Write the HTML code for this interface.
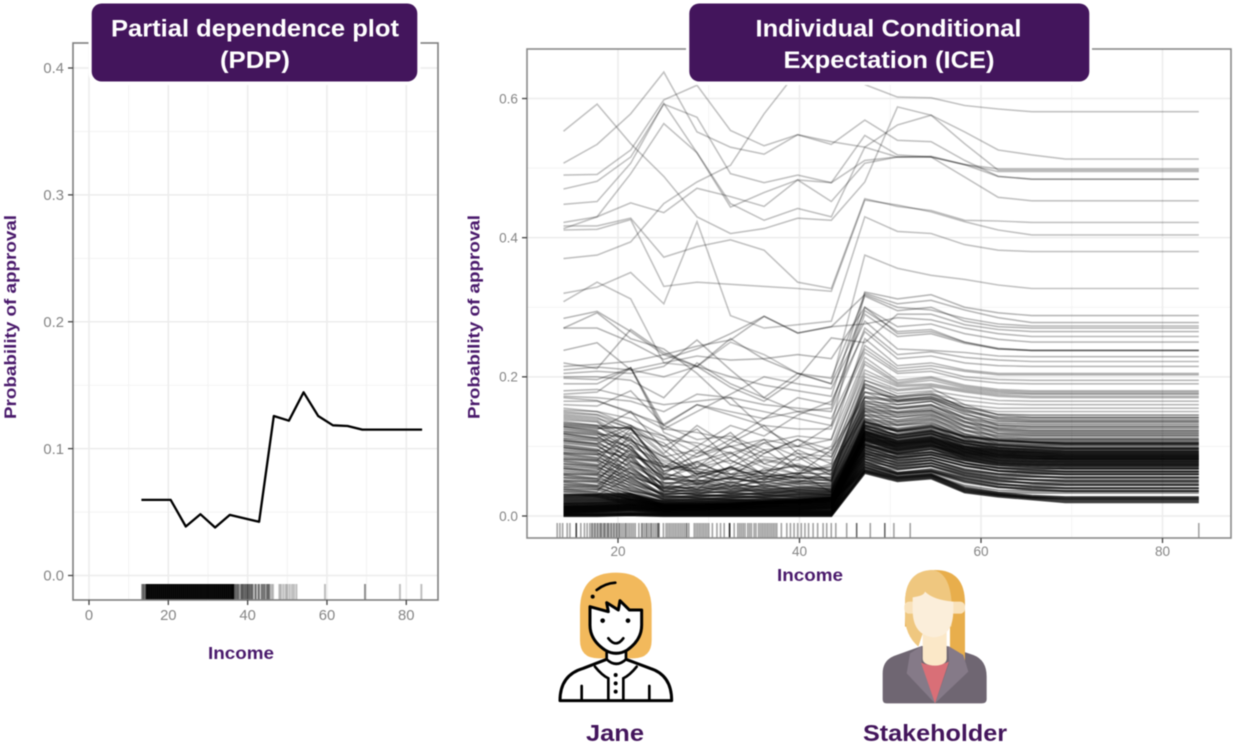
<!DOCTYPE html>
<html lang="en">
<head>
<meta charset="utf-8">
<title>PDP and ICE plots</title>
<style>
html,body{margin:0;padding:0;background:#fff;}
#stage{display:block;width:1236px;height:746px;filter:blur(.6px);font-family:"Liberation Sans",sans-serif;}
.tick{fill:#858585;}
.axt{fill:#4a1a6c;font-weight:bold;}
.ttl{fill:#fff;font-weight:bold;font-size:24px;text-anchor:middle;}
.nm{fill:#43155c;font-weight:bold;font-size:23px;text-anchor:middle;}
</style>
</head>
<body>
<svg id="stage" xmlns="http://www.w3.org/2000/svg" width="1236" height="746" viewBox="0 0 1236 746">
  <defs>
    <clipPath id="iceClip"><rect x="527" y="49" width="704" height="489"/></clipPath>
  </defs>
  <g id="pdpGridLines"></g>
  <g id="iceGridLines"></g>
  <g id="pdpMarks"></g>
  <g id="iceMarks" clip-path="url(#iceClip)"></g>
  <rect x="73" y="43" width="365" height="557" fill="none" stroke="#7f7f7f" stroke-width="1.6"/>
  <rect x="527" y="49" width="704" height="489" fill="none" stroke="#8a8a8a" stroke-width="1.6"/>
  <g id="pdpAxes"></g>
  <g id="iceAxes"></g>

  <text class="axt" transform="translate(16,419) rotate(-90)" font-size="17" textLength="204" lengthAdjust="spacingAndGlyphs">Probability of approval</text>
  <text class="axt" transform="translate(479.500,419) rotate(-90)" font-size="17" textLength="204" lengthAdjust="spacingAndGlyphs">Probability of approval</text>
  <text class="axt" x="208" y="659" font-size="17.500" textLength="66" lengthAdjust="spacingAndGlyphs">Income</text>
  <text class="axt" x="777" y="581" font-size="17.500" textLength="66" lengthAdjust="spacingAndGlyphs">Income</text>

  <rect x="88.500" y="0" width="332" height="85" rx="12" fill="#fff"/>
  <rect x="686" y="0" width="406" height="85" rx="12" fill="#fff"/>
  <rect x="91.700" y="3.500" width="325.600" height="78" rx="10" fill="#43155c"/>
  <rect x="689.300" y="3.500" width="400" height="78" rx="10" fill="#43155c"/>
  <text class="ttl" x="255" y="36.500" textLength="288" lengthAdjust="spacingAndGlyphs">Partial dependence plot</text>
  <text class="ttl" x="255" y="68" textLength="70" lengthAdjust="spacingAndGlyphs">(PDP)</text>
  <text class="ttl" x="888.500" y="36.500" textLength="266" lengthAdjust="spacingAndGlyphs">Individual Conditional</text>
  <text class="ttl" x="889" y="68" textLength="211" lengthAdjust="spacingAndGlyphs">Expectation (ICE)</text>

  <g id="jane" transform="translate(540,560) scale(.3333)">
    <path d="M120 240V150Q120 38 228 38Q335 38 335 150V240Q335 295 280 295H175Q120 295 120 240Z" fill="#f2b95c"/>
    <path d="M60 422Q60 345 130 325L200 298L258 298L330 325Q395 345 395 422Z" fill="#fff" stroke="#000" stroke-width="9" stroke-linejoin="round"/>
    <path d="M200 270V298Q228 325 258 298V270Z" fill="#fff" stroke="#000" stroke-width="8"/>
    <path d="M150 140V195Q150 240 195 270Q228 290 262 270Q305 240 305 195V150L268 150L240 122L235 150L200 128L205 155Z" fill="#fff" stroke="#000" stroke-width="9" stroke-linejoin="round"/>
    <path d="M170 90Q195 70 226 68M205 235Q228 265 250 235M165 320Q185 345 205 355V422M290 320Q270 345 250 355V422M125 378V420M328 378V420" fill="none" stroke="#000" stroke-width="8" stroke-linecap="round"/>
    <circle cx="158" cy="110" r="6"/>
    <circle cx="188" cy="182" r="7"/>
    <circle cx="264" cy="182" r="7"/>
    <circle cx="227" cy="345" r="6"/>
    <circle cx="227" cy="370" r="6"/>
    <circle cx="227" cy="395" r="6"/>
  </g>
  <text class="nm" x="615" y="741" textLength="58" lengthAdjust="spacingAndGlyphs">Jane</text>

  <g id="stakeholder" transform="translate(850,560) scale(.3333)">
    <path d="M98 418V340Q98 298 140 285L215 258L290 258L370 285Q410 300 410 350V418Q410 430 395 430H110Q98 430 98 418Z" fill="#6f6672"/>
    <path d="M165 130Q165 30 255 30Q345 30 345 130V310L330 318L300 300V200H165Z" fill="#e8ae4c"/>
    <path d="M165 130Q165 30 250 30Q300 40 305 130V200H225L205 260Q165 225 165 170Z" fill="#efc77f"/>
    <path d="M180 280L215 258V310L255 430L170 340Z" fill="#857a88"/>
    <path d="M295 258L340 285L355 335L255 430L297 310Z" fill="#857a88"/>
    <path d="M213 308Q255 325 297 305L255 430Z" fill="#d96f77"/>
    <path d="M218 205H290V295Q290 315 255 317Q218 315 218 295Z" fill="#fbe8c8"/>
    <rect x="163" y="125" width="182" height="36" rx="14" fill="#f9e2bb"/>
    <path d="M188 112Q222 108 225 95Q250 120 310 125V150Q310 230 250 232Q188 225 188 150Z" fill="#fbeeda"/>
  </g>
  <text class="nm" x="935" y="741" textLength="144" lengthAdjust="spacingAndGlyphs">Stakeholder</text>
</svg>

<script>
const pdpIncome = [13.2,16.9,20.6,24.4,28.1,31.8,35.5,39.2,42.9,46.6,50.4,54.1,57.8,61.5,65.2,68.9,84];
const pdpProbability = [.0596,.0596,.0596,.0386,.0483,.0378,.0478,.045,.0423,.1257,.122,.1444,.1257,.1184,.1178,.115,.115];
const iceIncome = [14,17.7,21.4,25.05,28.7,32.4,36.1,39.8,43.5,47.2,50.8,54.5,58.2,61.9,65.6,69.3,84];

const pdpXTicks = [0,20,40,60,80];
const pdpXMinor = [10,30,50,70];
const pdpYTicks = [0,.1,.2,.3,.4];
const pdpYMinor = [.05,.15,.25,.35];
const iceXTicks = [20,40,60,80];
const iceXMinor = [30,50,70];
const iceYTicks = [0,.2,.4,.6];
const iceYMinor = [.1,.3,.5];

const pdpRugDense = [14.6,15,15.5,16,16.5,17,17.5,18,18.5,19,19.5,20,20.5,21,21.5,22,22.5,23,23.5,24,24.5,25,25.5,26,26.5,27,27.5,28,28.5,29,29.5,30,30.5,31,31.5,32,32.5,33,33.5,34,34.5,35,35.5,36,36.3];
const pdpRugMid = [13.5,14,36.7,37.2,37.7,38.4,38.8,39.3,39.8,40.2,40.7,41.2,42,42.8,43.6,44.2,44.9,45.4];
const pdpRugLight = [46,46.4,48,48.4,49,49.6,50,50.6,51.2,51.7,52.3,59.5,69.6,69.6,78.4,83.8];
const iceRug = [13.3,13.6,13.9,14.4,14.7,15.4,15.4,15.4,15.9,16.3,16.6,16.9,17.1,17.2,17.4,17.5,17.7,17.8,18,18.1,18.2,18.4,18.5,18.6,18.8,18.9,19,19.2,19.3,19.5,19.6,19.8,19.9,20.1,20.2,20.4,20.6,20.8,20.9,21.1,21.3,21.5,21.7,21.9,22.3,22.6,22.7,22.9,23.1,23.2,23.4,23.6,23.7,23.9,24.1,24.3,24.4,24.5,24.5,25,25.3,25.5,25.7,25.9,26.1,26.3,26.5,26.7,26.9,27.1,27.3,27.5,27.6,27.8,28.4,28.6,28.8,29,29.2,29.4,29.6,29.8,30,30.4,30.9,31.3,31.7,32.3,32.3,32.3,32.3,32.8,33.2,33.4,33.6,33.8,34,34.3,34.5,34.7,35,35.2,35.5,35.7,35.9,36.1,36.3,36.5,36.7,36.9,37.1,37.3,37.5,38,38.6,39,39.4,39.8,40.2,40.6,41,41.5,42,42.6,43,43.5,44,45.2,46.3,46.3,47.8,49.4,49.4,50.4,52.2,84];

/* ICE probabilities in thousandths, one row per applicant */
const iceUpper = [
[370,375,394,449,480,504,578,640,668,620,602,601,590,585,581,581,581],
[553,592,535,488,430,406,413,428,425,480,588,576,552,526,519,513,513],
[507,534,578,638,552,530,520,548,538,530,562,576,535,497,497,497,497],
[490,491,526,598,619,554,532,548,534,569,540,538,511,488,484,484,484],
[470,481,516,592,573,492,479,490,479,547,519,516,505,499,499,499,499],
[448,452,507,593,522,449,425,442,430,530,516,516,505,488,484,484,484],
[422,430,450,436,471,459,445,483,452,507,516,517,505,495,495,495,495],
[413,430,492,564,522,444,465,483,479,511,516,516,487,458,453,453,453],
[417,417,428,372,387,397,382,336,327,456,445,439,425,424,422,422,422],
[411,412,426,330,336,333,330,327,323,454,447,437,423,411,404,404,404],
[320,329,350,305,423,288,270,275,280,430,409,406,390,382,380,380,380],
[308,336,312,220,215,250,232,205,190,375,356,346,340,332,327,327,327]
];
const iceMid = [
[284,294,265,232,215,200,188,180,172,322,312,318,300,292,288,288,288],
[270,292,255,240,205,160,150,140,130,320,305,310,296,285,278,278,278],
[270,270,250,225,240,262,287,263,272,318,300,296,284,276,273,273,273],
[238,249,210,200,215,255,225,205,198,316,295,300,280,272,270,270,270],
[220,212,268,235,215,185,165,198,256,249,290,290,275,268,265,265,265],
[215,218,222,232,244,253,287,263,272,276,285,282,270,262,258,258,258],
[210,214,210,220,230,224,226,232,226,300,272,276,262,254,250,250,250],
[205,208,205,215,253,210,170,150,155,300,262,265,250,241,238,238,238],
[200,200,195,170,220,190,170,205,190,295,265,268,250,240,238,238,238],
[198,196,213,130,160,150,140,170,160,290,258,262,248,240,238,238,238],
[190,190,213,125,150,175,200,190,183,280,240,238,235,230,229,229,229],
[180,182,170,160,165,170,160,155,150,270,232,236,228,224,222,222,222],
[175,178,213,120,100,130,115,145,165,265,226,230,220,216,215,215,215],
[172,170,165,150,175,170,125,100,110,255,216,220,210,205,205,205,205],
[170,166,148,132,160,145,130,125,125,245,212,216,208,203,203,203,203],
[165,165,150,125,120,110,140,150,140,240,208,212,200,196,195,195,195],
[160,158,180,130,110,115,95,100,130,235,205,208,196,191,190,190,190],
[155,150,130,110,105,90,105,115,110,228,195,200,188,182,180,180,180],
[152,150,140,115,90,100,85,80,100,222,192,198,186,180,178,178,178],
[150,146,130,90,130,100,110,100,90,218,190,195,184,178,176,176,176],
[148,145,125,100,85,110,90,110,95,210,188,190,182,176,175,175,175],
[146,142,115,85,95,75,105,85,80,205,186,188,180,174,172,172,172],
[144,140,127,70,85,100,75,90,85,200,182,186,178,172,170,170,170],
[142,138,110,80,70,90,70,60,75,195,176,180,172,166,165,165,165],
[140,136,105,65,75,60,80,70,65,190,172,175,166,161,160,160,160],
[138,135,100,78,60,70,62,75,60,188,168,170,160,155,155,155,155],
[136,130,95,55,70,80,60,55,52,185,165,168,156,150,150,150,150]
];
const iceScatter = [
[128,124,150,95,60,85,110,70,50,195,180,184,160,145,142,142,142],
[118,112,130,100,125,80,60,95,75,190,172,178,154,138,136,136,136],
[108,104,127,115,70,105,130,90,62,185,166,170,148,130,128,128,128],
[98,94,120,105,65,55,90,110,85,178,160,165,140,124,122,122,122],
[90,88,110,60,90,120,75,60,95,170,154,160,136,118,116,116,116],
[82,80,125,88,55,70,95,65,70,165,148,152,130,112,110,110,110],
[75,72,105,70,100,60,52,85,58,160,142,148,124,108,106,106,106],
[68,66,95,52,78,92,58,48,66,155,136,142,118,104,102,102,102],
[60,60,118,62,48,66,82,72,50,150,130,136,112,98,96,96,96],
[55,54,85,75,45,55,48,60,72,145,124,130,106,94,92,92,92],
[50,50,100,40,62,42,68,52,44,140,120,124,100,88,86,86,86],
[45,44,78,58,38,72,42,45,38,135,114,120,96,84,82,82,82],
[42,42,70,35,52,38,55,62,34,128,108,114,92,80,78,78,78],
[38,38,62,48,35,50,36,40,42,122,104,108,86,76,74,74,74],
[35,35,90,30,44,32,46,34,30,118,98,104,82,70,68,68,68],
[30,30,56,42,30,46,30,38,36,110,92,98,76,64,62,62,62]
];
const iceDense = [
[134,130,125,72,68,60,65,72,66,178,170,175,156,146,145,145,145],
[132,128,108,85,60,68,56,62,60,172,166,172,152,142,141,141,141],
[130,126,127,64,78,56,62,54,56,170,164,168,150,140,138,138,138],
[128,122,96,60,54,70,52,58,54,165,160,165,146,136,135,135,135],
[125,120,88,70,64,52,58,50,52,162,156,160,142,133,132,132,132],
[122,118,112,55,50,54,48,56,50,158,154,158,140,130,129,129,129],
[120,116,80,52,58,48,54,46,48,155,150,155,136,127,126,126,126],
[118,112,100,48,46,56,45,50,46,152,148,152,134,125,123,123,123],
[115,110,92,54,48,42,50,42,44,150,145,150,130,122,120,120,120],
[112,108,74,46,52,44,42,48,42,146,142,146,128,119,118,118,118],
[110,104,86,42,40,48,40,40,40,144,138,144,124,116,115,115,115],
[108,102,68,40,46,38,44,38,39,140,135,140,122,114,112,112,112],
[105,100,78,44,38,42,37,42,38,138,132,138,118,111,110,110,110],
[102,96,62,38,42,36,40,36,37,134,130,134,116,109,108,108,108],
[100,94,84,36,36,40,34,38,36,132,126,132,114,107,106,106,106],
[98,92,58,40,34,34,38,34,35,130,124,130,112,105,104,104,104],
[95,90,72,34,38,32,33,36,34,128,122,126,110,103,102,102,102],
[92,88,54,32,32,36,36,32,34,125,118,124,108,101,100,100,100],
[90,84,66,36,30,30,32,34,33,122,116,122,106,99,98,98,98],
[88,82,50,30,34,34,30,31,32,120,114,120,104,97,96,96,96],
[85,80,62,28,29,29,34,30,31,118,112,118,102,95,94,94,94],
[82,78,46,32,32,28,28,32,31,115,110,116,100,93,92,92,92],
[80,74,56,27,27,32,31,28,30,112,106,112,98,91,90,90,90],
[78,72,42,26,30,27,27,30,30,110,104,110,96,89,88,88,88],
[75,70,52,30,26,26,30,27,29,108,102,108,94,87,86,86,86],
[72,68,38,24,28,30,26,26,28,105,100,106,92,85,84,84,84],
[70,64,48,25,24,25,28,28,28,102,96,102,90,83,82,82,82],
[68,62,36,28,26,24,24,25,27,100,94,100,88,81,80,80,80],
[65,60,44,23,23,27,26,24,27,98,92,98,86,79,78,78,78],
[62,58,32,22,25,23,23,26,26,95,90,96,84,77,76,76,76],
[60,54,40,24,22,22,25,23,26,92,86,92,82,75,74,74,74],
[58,52,30,21,24,24,22,24,25,90,84,90,80,73,72,72,72],
[55,50,36,20,21,21,24,22,25,88,82,88,76,69,68,68,68],
[52,48,26,22,22,23,21,23,24,85,78,84,72,65,64,64,64],
[50,44,32,20,20,20,22,21,24,82,74,80,68,61,60,60,60],
[48,42,24,19,21,22,20,22,23,78,70,76,64,57,56,56,56],
[45,40,28,21,19,19,21,20,23,75,66,72,60,53,52,52,52],
[42,38,22,18,20,21,19,21,22,72,62,68,56,49,48,48,48],
[40,34,24,19,18,18,20,19,22,70,60,64,52,45,44,44,44],
[38,32,20,17,19,20,18,20,21,68,58,62,48,41,40,40,40],
[35,30,18,18,17,17,19,18,21,66,56,60,44,37,36,36,36],
[32,28,16,16,18,19,17,19,20,64,54,58,42,34,33,33,33]
];
const iceFloor = [
[0,0,1,0,0,0,0,0,0,62,50,54,34,28,24,20,20],
[1,1,2,1,1,1,1,1,1,64,52,56,36,30,26,23,23],
[2,2,3,2,2,2,2,2,2,66,54,58,38,31,27,25,25],
[3,3,4,3,3,3,3,3,3,70,56,60,40,33,29,27,27],
[4,5,6,4,4,4,4,4,4,74,60,64,50,42,38,36,36],
[5,6,8,5,5,5,5,5,5,78,62,66,54,46,42,40,40],
[6,7,9,6,6,6,6,6,6,82,68,72,58,51,47,45,45],
[7,8,10,7,7,7,7,7,7,86,72,76,62,55,52,50,50],
[8,9,11,8,8,8,8,8,8,90,76,80,66,60,57,55,55],
[9,10,12,8,9,9,9,9,10,94,80,84,72,65,62,60,60],
[10,11,13,9,9,10,10,10,11,98,84,88,76,69,66,64,64],
[11,12,14,10,10,10,11,11,12,102,88,92,80,73,70,68,68],
[12,13,15,10,11,11,12,12,13,104,90,96,83,76,73,71,71],
[13,14,16,11,11,12,13,13,14,108,94,100,86,79,76,74,74],
[14,15,17,12,12,12,14,14,15,110,96,102,88,82,79,77,77],
[15,16,18,12,13,13,14,15,16,112,98,104,90,85,82,80,80],
[17,18,20,13,13,14,15,16,17,114,100,106,92,87,84,82,82],
[18,19,21,13,14,14,16,17,18,116,102,108,94,89,86,84,84],
[20,21,23,14,14,15,17,18,19,118,104,110,96,91,88,86,86],
[22,23,24,14,15,15,18,19,20,120,106,112,98,93,90,88,88],
[24,25,26,15,15,16,18,20,22,122,108,114,100,95,92,90,90],
[26,27,28,15,16,16,19,21,23,126,112,118,104,98,95,93,93],
[28,29,30,16,16,17,20,22,25,130,116,122,108,102,99,97,97],
[30,31,32,17,17,18,21,23,26,136,122,128,114,109,106,104,104]
];

function pdpX(v){ return 89 + v * 3.966; }
function pdpY(p){ return 575.5 - p * 1268.75; }
function iceX(v){ return 618 + (v - 20) * 9.075; }
function iceY(p){ return 516 - p * 695.8; }

const NS = 'http://www.w3.org/2000/svg';
function mk(tag, parent, attrs){
  const el = document.createElementNS(NS, tag);
  for (const k in attrs) el.setAttribute(k, attrs[k]);
  parent.appendChild(el);
  return el;
}
function pathFrom(xs, ys){
  return xs.map(function(x, i){ return (i ? 'L' : 'M') + x.toFixed(1) + ' ' + ys[i].toFixed(1); }).join('');
}
function gridline(parent, x1, x2, y1, y2, major){
  const el = mk('line', parent, {x1:x1, x2:x2, y1:y1, y2:y2, stroke: major ? '#ececec' : '#f3f3f3', 'stroke-width': major ? 1.5 : 1});
  
  
}
function drawGrid(parent, sx, sy, xMajor, xMinor, yMajor, yMinor, left, right, top, bottom){
  yMinor.forEach(function(v){ gridline(parent, left, right, sy(v), sy(v), false); });
  xMinor.forEach(function(v){ gridline(parent, sx(v), sx(v), top, bottom, false); });
  yMajor.forEach(function(v){ gridline(parent, left, right, sy(v), sy(v), true); });
  xMajor.forEach(function(v){ gridline(parent, sx(v), sx(v), top, bottom, true); });
}
drawGrid(document.getElementById('pdpGridLines'), pdpX, pdpY, pdpXTicks, pdpXMinor, pdpYTicks, pdpYMinor, 73, 438, 43, 600);
drawGrid(document.getElementById('iceGridLines'), iceX, iceY, iceXTicks, iceXMinor, iceYTicks, iceYMinor, 527, 1231, 49, 538);

function drawRug(parent, values, sx, top, bottom, width, opacity){
  values.forEach(function(v){
    const el = mk('line', parent, {x1:sx(v), x2:sx(v), y1:top, y2:bottom, stroke:'#000', 'stroke-width':width, 'stroke-opacity':opacity});
    
    
  });
}
const pdpMarks = document.getElementById('pdpMarks');
drawRug(pdpMarks, pdpRugLight, pdpX, 584, 600, 2, .25);
drawRug(pdpMarks, pdpRugMid, pdpX, 584, 600, 2.4, .55);
drawRug(pdpMarks, pdpRugDense, pdpX, 584, 600, 2.6, .95);
const pdpLine = mk('path', pdpMarks, {
  d: pathFrom(pdpIncome.map(pdpX), pdpProbability.map(pdpY)),
  fill:'none', stroke:'#000', 'stroke-width':2.3, 'stroke-linejoin':'round'
});



const iceMarks = document.getElementById('iceMarks');
drawRug(iceMarks, iceRug, iceX, 523, 538, 1.6, .36);
function drawIce(rows, width, opacity){
  rows.forEach(function(row){
    const d = pathFrom(iceIncome.map(iceX), row.map(function(t){ return iceY(t / 1000); }));
    const el = mk('path', iceMarks, {d:d, fill:'none', stroke:'#000', 'stroke-width':width, 'stroke-opacity':opacity});
    
    
  });
}
drawIce(iceUpper, 1.6, .24);
drawIce(iceMid, 1.6, .28);
drawIce(iceScatter, 1.5, .32);
drawIce(iceDense, 1.7, .44);
drawIce(iceFloor, 2.2, .74);

function drawAxis(parent, sx, sy, xs, ys, left, bottom, size, xLabelY){
  ys.forEach(function(v){
    const t = mk('line', parent, {x1:left - 5, x2:left, y1:sy(v), y2:sy(v), stroke:'#444', 'stroke-width':1.3});
    
    
    const l = mk('text', parent, {x:left - 9, y:sy(v) + size * .35, 'text-anchor':'end', 'font-size':size, class:'tick'});
    
    
    l.textContent = v.toFixed(1);
  });
  xs.forEach(function(v){
    const t = mk('line', parent, {x1:sx(v), x2:sx(v), y1:bottom, y2:bottom + 5, stroke:'#444', 'stroke-width':1.3});
    
    
    const l = mk('text', parent, {x:sx(v), y:xLabelY, 'text-anchor':'middle', 'font-size':size, class:'tick'});
    
    
    l.textContent = String(v);
  });
}
drawAxis(document.getElementById('pdpAxes'), pdpX, pdpY, pdpXTicks, pdpYTicks, 73, 600, 14.8, 620);
drawAxis(document.getElementById('iceAxes'), iceX, iceY, iceXTicks, iceYTicks, 527, 538, 13.6, 556);
</script>
</body>
</html>
